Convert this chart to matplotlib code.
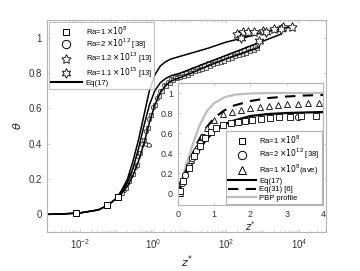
import matplotlib
matplotlib.use('Agg')
import matplotlib.pyplot as plt
import numpy as np

plt.rcParams['font.family'] = ['Liberation Sans', 'DejaVu Sans']
plt.rcParams['mathtext.fontset'] = 'dejavusans'

#====================
# Data
#====================
# main plot, x values stored as log10(z*)
eq17_a_logz = [-2.9, -2.5, -2.0, -1.5, -1.25, -1.0, -0.85, -0.7, -0.55, -0.4, -0.25, -0.1,
               0.05, 0.2, 0.35, 0.5, 0.75, 1.0, 1.5, 2.0, 2.5, 3.0, 3.5, 3.8]
eq17_a_theta = [0.0, 0.002, 0.008, 0.025, 0.05, 0.09, 0.14, 0.2, 0.3, 0.42, 0.56, 0.7,
                0.79, 0.84, 0.865, 0.88, 0.895, 0.91, 0.94, 0.975, 1.0, 1.03, 1.05, 1.06]
eq17_b_logz = [-2.9, -2.5, -2.0, -1.5, -1.25, -1.0, -0.85, -0.7, -0.55, -0.4, -0.25, -0.1,
               0.05, 0.2, 0.35, 0.5, 0.75, 1.0, 1.5, 2.0, 2.5, 3.0, 3.5]
eq17_b_theta = [0.0, 0.002, 0.008, 0.025, 0.05, 0.09, 0.13, 0.18, 0.26, 0.37, 0.5, 0.62,
                0.7, 0.745, 0.77, 0.785, 0.8, 0.82, 0.86, 0.9, 0.94, 0.98, 1.02]
eq17_c_logz = [-2.9, -2.5, -2.0, -1.5, -1.25, -1.0, -0.85, -0.7, -0.55, -0.4, -0.25, -0.1,
               0.05, 0.2, 0.35, 0.5, 0.75, 1.0, 1.5, 2.0, 2.5, 2.9]
eq17_c_theta = [0.0, 0.002, 0.008, 0.025, 0.05, 0.09, 0.12, 0.16, 0.22, 0.3, 0.4, 0.52,
                0.62, 0.69, 0.73, 0.755, 0.775, 0.795, 0.84, 0.88, 0.915, 0.945]

sq_low_logz = [-2.1, -1.25, -0.96]
sq_low_theta = [0.01, 0.055, 0.10]
sq_logz = [-0.85, -0.75, -0.65, -0.55, -0.45, -0.35, -0.25, -0.15, -0.05, 0.05, 0.15, 0.25,
           0.35, 0.45, 0.55, 0.65, 0.75, 0.85, 0.95, 1.05, 1.15, 1.25, 1.35, 1.45, 1.55,
           1.65, 1.75, 1.85, 1.95, 2.05, 2.15, 2.25, 2.35, 2.45, 2.55, 2.65, 2.75, 2.85]
sq_theta = [0.12, 0.15, 0.19, 0.23, 0.28, 0.35, 0.42, 0.49, 0.56, 0.62, 0.67, 0.70,
            0.725, 0.745, 0.76, 0.77, 0.78, 0.785, 0.79, 0.80, 0.81, 0.815, 0.825, 0.83, 0.84,
            0.85, 0.855, 0.865, 0.87, 0.88, 0.885, 0.895, 0.90, 0.91, 0.915, 0.925, 0.93, 0.94]
ci_logz = [-0.8, -0.7, -0.6, -0.5, -0.4, -0.3, -0.2, -0.1, 0.0, 0.1, 0.2, 0.3, 0.4,
           0.5, 0.6, 0.7, 0.8, 0.9, 1.0, 1.1, 1.2, 1.3, 1.4, 1.5, 1.6, 1.7, 1.8, 1.9,
           2.0, 2.1, 2.2, 2.3, 2.4, 2.5, 2.6, 2.7, 2.8]
ci_theta = [0.14, 0.18, 0.22, 0.27, 0.33, 0.40, 0.47, 0.54, 0.61, 0.66, 0.70, 0.73, 0.75,
            0.765, 0.775, 0.785, 0.795, 0.80, 0.81, 0.82, 0.83, 0.84, 0.845, 0.855, 0.86,
            0.87, 0.875, 0.885, 0.89, 0.90, 0.91, 0.915, 0.925, 0.93, 0.94, 0.945, 0.955]
star5_logz = [2.3, 2.45, 2.6, 2.75, 3.0, 3.3, 3.55, 3.8]
star5_theta = [1.02, 1.03, 1.03, 1.03, 1.04, 1.05, 1.06, 1.06]
star6_logz = [2.4, 2.9, 3.1, 3.5]
star6_theta = [1.0, 0.98, 1.03, 1.05]

# inset, linear z*
pbp_z = [0, 0.2, 0.4, 0.6, 0.8, 1.0, 1.3, 1.6, 2.0, 2.5, 3.0, 4.0]
pbp_theta = [0, 0.25, 0.48, 0.68, 0.82, 0.9, 0.96, 0.985, 0.995, 1.0, 1.0, 1.0]
eq31_z = [0, 0.25, 0.5, 0.75, 1.0, 1.25, 1.5, 2.0, 2.5, 3.0, 3.5, 4.0]
eq31_theta = [0, 0.25, 0.48, 0.64, 0.75, 0.82, 0.87, 0.92, 0.95, 0.965, 0.975, 0.98]
in_eq17_z = [0, 0.25, 0.5, 0.75, 1.0, 1.25, 1.5, 2.0, 2.5, 3.0, 4.0]
in_eq17_theta = [0, 0.2, 0.38, 0.52, 0.62, 0.68, 0.72, 0.77, 0.79, 0.80, 0.81]
in_sq_z = [0.05, 0.15, 0.3, 0.45, 0.6, 0.75, 0.9, 1.05, 1.25, 1.45, 1.65, 1.85, 2.05,
           2.3, 2.55, 2.8, 3.1, 3.4, 3.8]
in_sq_theta = [0.02, 0.12, 0.25, 0.37, 0.47, 0.55, 0.61, 0.65, 0.68, 0.70, 0.71, 0.72,
               0.73, 0.74, 0.75, 0.76, 0.76, 0.77, 0.77]
in_ci_z = [0.1, 0.2, 0.3, 0.4, 0.5, 0.6, 0.7, 3.3]
in_ci_theta = [0.1, 0.18, 0.27, 0.35, 0.42, 0.5, 0.56, 0.76]
tri_z = [0.05, 0.2, 0.35, 0.5, 0.65, 0.8, 1.0, 1.25, 1.5, 1.75, 2.0, 2.25, 2.5, 2.75,
         3.0, 3.3, 3.6, 3.9]
tri_theta = [0.0, 0.2, 0.33, 0.45, 0.56, 0.65, 0.73, 0.79, 0.81, 0.83, 0.85, 0.86, 0.87,
             0.88, 0.89, 0.89, 0.9, 0.9]

#====================
# Figure
#====================
grey = '#b4b4b4'
fig = plt.figure(figsize=(3.6, 2.71), dpi=100)
ax = fig.add_axes([0.1306, 0.1439, 0.775, 0.7823])

mk = dict(linestyle='none', markerfacecolor='white', markeredgecolor='black')
ax.plot(10 ** np.array(ci_logz), ci_theta, marker='o', markersize=3.2, markeredgewidth=0.5,
        linestyle='none', markerfacecolor='#e0e0e0', markeredgecolor='#222222')
ax.plot(10 ** np.array(sq_logz), sq_theta, marker='s', markersize=3.2, markeredgewidth=0.5,
        linestyle='none', markerfacecolor='#e0e0e0', markeredgecolor='#222222')
for lz, th in [(eq17_c_logz, eq17_c_theta), (eq17_b_logz, eq17_b_theta), (eq17_a_logz, eq17_a_theta)]:
    ax.plot(10 ** np.array(lz), th, color='black', lw=1.1)
h_sq, = ax.plot(10 ** np.array(sq_low_logz), sq_low_theta, marker='s', markersize=5,
                markeredgewidth=0.7, **mk)
h_ci, = ax.plot([], [], marker='o', markersize=6, markeredgewidth=0.7, **mk)
h_s5, = ax.plot(10 ** np.array(star5_logz), star5_theta, marker=(5, 1, 0), markersize=7,
                markeredgewidth=0.6, **mk)
h_s6, = ax.plot(10 ** np.array(star6_logz), star6_theta, marker=(6, 1, 0), markersize=7,
                markeredgewidth=0.6, **mk)
h_eq, = ax.plot([], [], color='black', lw=1.5)

ax.set_xscale('log')
ax.set_xlim(10 ** -2.9, 10 ** 4.73)
ax.set_ylim(-0.1, 1.1)
ax.set_xticks([1e-2, 1e0, 1e2, 1e4])
ax.xaxis.set_minor_locator(matplotlib.ticker.LogLocator(base=10, subs=np.arange(1, 10), numticks=20))
ax.xaxis.set_minor_formatter(matplotlib.ticker.NullFormatter())
ax.set_yticks([0, 0.2, 0.4, 0.6, 0.8, 1])
ax.set_yticklabels(['0', '0.2', '0.4', '0.6', '0.8', '1'])
ax.tick_params(which='both', direction='in', top=True, right=True, colors='#c8c8c8',
               labelcolor='#333333', labelsize=7, length=2.5, width=0.5)
ax.tick_params(which='minor', length=1.5)
for s in ax.spines.values():
    s.set_color(grey)
    s.set_linewidth(0.8)
ax.set_xlabel(r'$z^{*}$', fontsize=8, labelpad=2, color='#222222')
ax.set_ylabel(r'$\theta$', fontsize=8, labelpad=4, color='#222222')

leg = ax.legend([h_sq, h_ci, h_s5, h_s6, h_eq],
                [r'Ra=1 $\times 10^{8}$', r'Ra=2 $\times 10^{12}$ [38]',
                 r'Ra=1.2 $\times 10^{13}$ [13]', r'Ra=1.1 $\times 10^{15}$ [13]', 'Eq(17)'],
                loc='upper left', bbox_to_anchor=(0.0, 1.0), fontsize=5.5, frameon=True,
                fancybox=False, edgecolor=grey, handlelength=4.0, labelspacing=0.0,
                borderaxespad=0.3, borderpad=0.25, handletextpad=0.5)
leg.get_frame().set_linewidth(0.8)

#====================
# Inset
#====================
ins = fig.add_axes([0.4944, 0.2435, 0.4028, 0.4502])
ins.plot(pbp_z, pbp_theta, color='#bdbdbd', lw=1.6)
ins.plot(eq31_z, eq31_theta, color='black', lw=1.5, dashes=(5, 3.5))
ins.plot(in_eq17_z, in_eq17_theta, color='black', lw=1.6)
ins.plot(tri_z, tri_theta, marker='^', markersize=5, markeredgewidth=0.6, **mk)
ins.plot(in_ci_z, in_ci_theta, marker='o', markersize=4.5, markeredgewidth=0.6, **mk)
ins.plot(in_sq_z, in_sq_theta, marker='s', markersize=4, markeredgewidth=0.6, **mk)

i_sq, = ins.plot([], [], marker='s', markersize=5, markeredgewidth=0.7, **mk)
i_ci, = ins.plot([], [], marker='o', markersize=6, markeredgewidth=0.7, **mk)
i_tri, = ins.plot([], [], marker='^', markersize=6, markeredgewidth=0.7, **mk)
i_eq17, = ins.plot([], [], color='black', lw=1.5)
i_eq31, = ins.plot([], [], color='black', lw=1.5, dashes=(5, 3.5))
i_pbp, = ins.plot([], [], color='#bdbdbd', lw=1.6)

ins.set_xlim(0, 4)
ins.set_ylim(-0.12, 1.1)
ins.set_xticks([0, 1, 2, 3, 4])
ins.set_yticks([0, 0.2, 0.4, 0.6, 0.8, 1])
ins.set_yticklabels(['0', '0.2', '0.4', '0.6', '0.8', '1'])
ins.tick_params(direction='in', top=True, right=True, colors='#c8c8c8',
                labelcolor='#333333', labelsize=6.5, length=2.5, width=0.5)
for s in ins.spines.values():
    s.set_color(grey)
    s.set_linewidth(0.8)
ins.set_xlabel(r'$z^{*}$', fontsize=7, labelpad=0, color='#222222')
ins.set_ylabel(r'$\theta$', fontsize=7, labelpad=4, color='#222222')

ileg = ins.legend([i_sq, i_ci, i_tri, i_eq17, i_eq31, i_pbp],
                  [r'Ra=1 $\times 10^{8}$', r'Ra=2 $\times 10^{12}$ [38]',
                   r'Ra=1 $\times 10^{8}$(ave)', 'Eq(17)', 'Eq(31) [6]', 'PBP profile'],
                  loc='lower right', fontsize=5.5, frameon=True, fancybox=False,
                  edgecolor=grey, handlelength=3.6, labelspacing=0.12, borderaxespad=0.15,
                  borderpad=0.3, handletextpad=0.5, framealpha=1)
ileg.get_frame().set_linewidth(0.8)

fig.savefig('out.png', dpi=100)
